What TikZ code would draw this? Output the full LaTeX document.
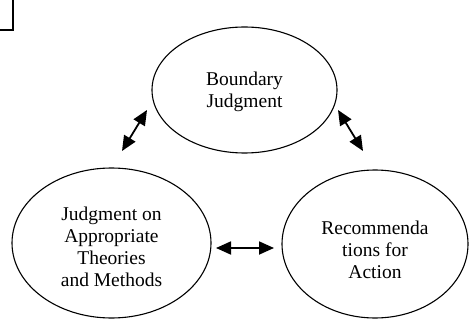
\documentclass[tikz,border=0pt]{standalone}
\usepackage{fontspec}
\setmainfont{Liberation Serif}
\usetikzlibrary{shapes.geometric,arrows.meta}
\begin{document}
\begin{tikzpicture}[x=1pt,y=-1pt,
  bubble/.style={draw,line width=1.1pt,ellipse,inner sep=0pt},
  txt/.style={align=center,font=\fontsize{19.5}{22}\selectfont},
  link/.style={line width=1.8pt,{Triangle[length=15pt,width=13pt]}-{Triangle[length=15pt,width=13pt]}}]
\useasboundingbox (0,0) rectangle (470,320);
\draw[line width=1.3pt] (0,30) -- (13,30) -- (13,-2);
\node[bubble,minimum width=185pt,minimum height=126pt,
  label={[txt,yshift=-2pt]center:Boundary\\Judgment}] (bj) at (244.5,90) {};
\node[bubble,minimum width=199pt,minimum height=150pt,
  label={[txt,yshift=-4pt]center:Judgment on\\Appropriate\\Theories\\and Methods}] (jt) at (111.5,243) {};
\node[bubble,minimum width=186pt,minimum height=148pt,
  label={[txt,yshift=-6pt]center:Recommenda\\tions for\\Action}] (ra) at (375,244) {};
\coordinate (a1) at (147,110);
\coordinate (a2) at (122,151);
\coordinate (b1) at (338,110);
\coordinate (b2) at (363,151);
\coordinate (c1) at (216,248);
\coordinate (c2) at (274,248);
\draw[link] (a1) -- (a2);
\draw[link] (b1) -- (b2);
\draw[link] (c1) -- (c2);
\end{tikzpicture}
\end{document}
